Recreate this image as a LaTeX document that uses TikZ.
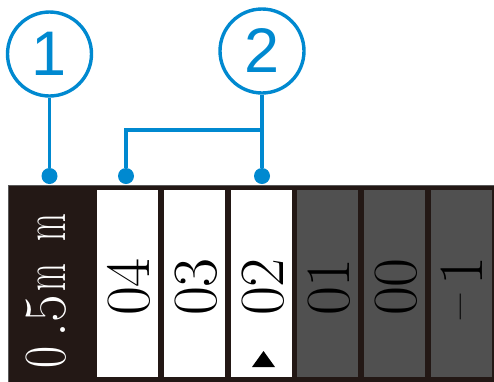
\documentclass[tikz,border=0pt]{standalone}
\usepackage{fontspec}
\newfontfamily\calloutfont{Liberation Sans}
\usetikzlibrary{positioning}
\definecolor{CalBlue}{HTML}{0089D0}
\definecolor{CalDark}{HTML}{231815}
\definecolor{CalGray}{HTML}{505050}
\begin{document}
\begin{tikzpicture}[x=1pt, y=-1pt,
  callout/.style={circle, draw=CalBlue, line width=3.4pt, minimum size=84pt,
                  inner sep=0pt, text=CalBlue,
                  font=\calloutfont\fontsize{63}{63}\selectfont},
  pin/.style={circle, fill=CalBlue, minimum size=16pt, inner sep=0pt},
  lead/.style={CalBlue, line width=3.4pt},
  cell/.style={rectangle, minimum width=61pt, minimum height=187pt,
               inner sep=0pt, fill=#1},
  digits/.style={rotate=90, inner sep=0pt, font=\fontsize{63}{63}\selectfont},
  unit/.style={rotate=90, anchor=base, inner sep=0pt, text=white,
               font=\fontsize{60}{60}\selectfont}
]
\useasboundingbox (0,0) rectangle (494,381);

% Scale body
\filldraw[fill=CalDark, draw=gray!70!black, line width=0.8pt] (8,185) rectangle (496,383);

% Unit label, read bottom to top
\node[unit] (u0) at (65,357)   {\scalebox{0.8}[1]{0}};
\node[unit] (ud) at (65,330)   {.};
\node[unit] (u5) at (65,308.5) {5};
\node[unit] (um1) at (65,277.5) {\scalebox{0.6}[1.05]{m}};
\node[unit] (um2) at (65,227.5) {\scalebox{0.6}[1.05]{m}};

% Readable cells
\node[cell=white] (c04) at (127.5,283.5) {};
\node[cell=white] (c03) at (194.5,283.5) {};
\node[cell=white] (c02) at (261.5,283.5) {};
% Covered cells
\node[cell=CalGray] (c01) at (327.5,283.5) {};
\node[cell=CalGray] (c00) at (394.5,283.5) {};
\node[cell=CalGray] (cm1) at (461.5,283.5) {};

\node[digits] (t04) at (129,287) {04};
\node[digits] (t03) at (196,287) {03};
\node[digits] (t02) at (263,287) {02};
\node[digits] (t01) at (329,287) {01};
\node[digits] (t00) at (396,287) {00};
\node[digits] (tm1) at (462,288) {\raisebox{0.08em}{\scalebox{0.87}[1]{--}}\kern0.15em 1};

% Index mark
\fill (252,367) -- (275,367) -- (263.5,351) -- cycle;

% Callout 1: unit
\node[callout] (n1) at (49.5,54) {1};
\node[pin] (p1) at (49.5,176) {};
\draw[lead] (n1) -- (p1);

% Callout 2: readings
\node[callout] (n2) at (262,51) {2};
\node[pin] (p2) at (126,176) {};
\node[pin] (p3) at (262,176) {};
\coordinate (fork) at (262,130);
\draw[lead] (n2) -- (p3);
\draw[lead] (p2) |- (fork);

\end{tikzpicture}
\end{document}
